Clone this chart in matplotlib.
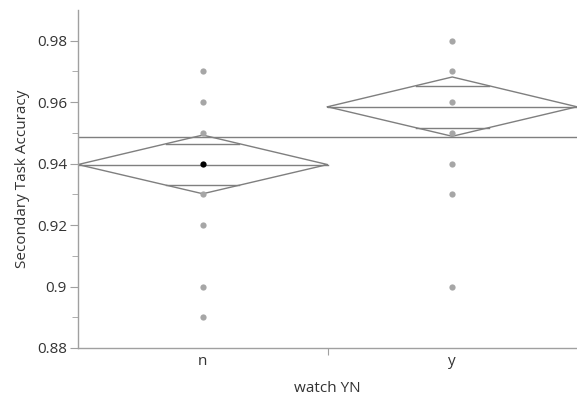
import matplotlib.pyplot as plt
from matplotlib.ticker import FixedLocator

plt.rcParams['font.family'] = ['Open Sans', 'DejaVu Sans']

# data
groups = ['n', 'y']
points_n = [0.97, 0.96, 0.95, 0.93, 0.92, 0.90, 0.89]
points_y = [0.98, 0.97, 0.96, 0.95, 0.94, 0.93, 0.90]
highlight_n = [0.94]
group_means = [0.9397, 0.9585]
group_ci_upper = [0.9493, 0.9682]
group_ci_lower = [0.9302, 0.9489]
grand_mean = 0.9487

fig = plt.figure(figsize=(5.77, 3.99), dpi=100)
ax = fig.add_axes([78 / 577, 51 / 399, 499 / 577, 338 / 399])

diamond_col = '#7f7f7f'
point_col = '#a6a6a6'

# grand mean line
ax.axhline(grand_mean, color=diamond_col, lw=1.0, zorder=2)

for i, g in enumerate(groups):
    x0, x1, xc = i, i + 1, i + 0.5
    m, hi, lo = group_means[i], group_ci_upper[i], group_ci_lower[i]
    # diamond
    ax.plot([x0, xc, x1, xc, x0], [m, hi, m, lo, m], color=diamond_col, lw=1.0, zorder=2)
    ax.plot([x0, x1], [m, m], color=diamond_col, lw=1.0, zorder=2)
    # overlap marks
    k = 0.7071
    for edge in (hi, lo):
        yy = m + k * (edge - m)
        half = 0.5 * (1 - k)
        ax.plot([xc - half, xc + half], [yy, yy], color=diamond_col, lw=1.0, zorder=2)

ax.plot([0.5] * len(points_n), points_n, 'o', color=point_col, ms=4.5, mec='none', zorder=3)
ax.plot([1.5] * len(points_y), points_y, 'o', color=point_col, ms=4.5, mec='none', zorder=3)
ax.plot([0.5] * len(highlight_n), highlight_n, 'o', color='black', ms=4.5, mec='none', zorder=4)

ax.set_xlim(0, 2)
ax.set_ylim(0.88, 0.99)

ax.yaxis.set_major_locator(FixedLocator([0.88, 0.9, 0.92, 0.94, 0.96, 0.98]))
ax.set_yticklabels(['0.88', '0.9', '0.92', '0.94', '0.96', '0.98'])
ax.yaxis.set_minor_locator(FixedLocator([0.89, 0.91, 0.93, 0.95, 0.97]))

ax.xaxis.set_major_locator(FixedLocator([1]))
ax.set_xticklabels([''])
ax.xaxis.set_minor_locator(FixedLocator([0.5, 1.5]))
ax.set_xticklabels(groups, minor=True)

spine_col = '#a0a0a0'
for s in ['top', 'right']:
    ax.spines[s].set_visible(False)
for s in ['left', 'bottom']:
    ax.spines[s].set_color(spine_col)
    ax.spines[s].set_linewidth(1.0)

ax.tick_params(axis='y', which='major', length=6, color=spine_col, labelsize=11, labelcolor='#333333', pad=2)
ax.tick_params(axis='y', which='minor', length=4, color=spine_col)
ax.tick_params(axis='x', which='major', length=5, color=spine_col)
ax.tick_params(axis='x', which='minor', length=0, labelsize=11, labelcolor='#333333', pad=4)

ax.set_ylabel('Secondary Task Accuracy', fontsize=11, color='#333333', labelpad=5)
ax.set_xlabel('watch YN', fontsize=11, color='#333333', labelpad=9)

fig.savefig('out.png', dpi=100)
